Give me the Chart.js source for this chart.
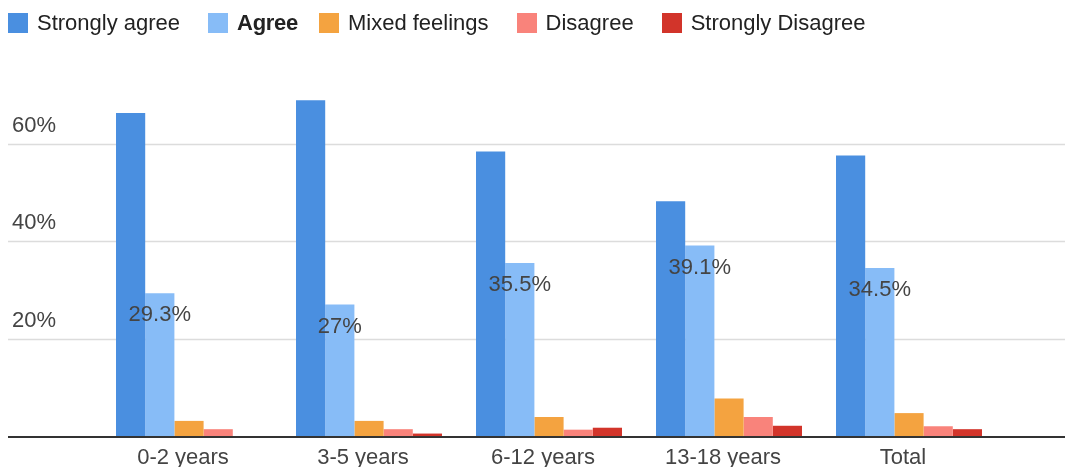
<!DOCTYPE html>
<html>
<head>
<meta charset="utf-8">
<script src="https://cdn.jsdelivr.net/npm/chart.js@4/dist/chart.umd.min.js"></script>
<style>
  html, body { margin: 0; padding: 0; background: #fff; }
  #wrap { position: relative; width: 1065px; height: 467px; overflow: hidden; }
  #chart { position: absolute; left: 0; top: 0; }
  #legend {
    position: absolute; left: 8px; top: 10px;
    display: flex; align-items: center; gap: 28px;
    font-family: "Liberation Sans", Arial, sans-serif; font-size: 22px; color: #222;
  }
  .item { display: flex; align-items: center; }
  .item.active { margin-right: -7px; }
  .item.active span:last-child { font-weight: bold; letter-spacing: -0.3px; }
  .swatch { width: 20px; height: 20px; margin-right: 9px; }
</style>
</head>
<body>
<div id="wrap">
  <canvas id="chart" width="1065" height="467"></canvas>
  <div id="legend"></div>
</div>
<script>
// Experience groups along the x axis
const categories = ['0-2 years', '3-5 years', '6-12 years', '13-18 years', 'Total'];

// Share of responses (%) per answer, one value per group
const stronglyAgree    = [66.3, 68.9, 58.4, 48.2, 57.6];
const agree            = [29.3, 27, 35.5, 39.1, 34.5];
const mixedFeelings    = [3.1, 3.1, 3.9, 7.7, 4.7];
const disagree         = [1.4, 1.4, 1.3, 3.9, 2.0];
const stronglyDisagree = [0, 0.5, 1.7, 2.1, 1.4];

// Value axis ticks (%)
const yTicks = [0, 20, 40, 60];

const seriesNames  = ['Strongly agree', 'Agree', 'Mixed feelings', 'Disagree', 'Strongly Disagree'];
const seriesColors = ['#4a8fe0', '#87bcf7', '#f4a340', '#f9837b', '#d2342a'];
const seriesValues = [stronglyAgree, agree, mixedFeelings, disagree, stronglyDisagree];

const FONT = '"Liberation Sans", Arial, sans-serif';

// Horizontal grid, value labels above each line, baseline and group names
const axisPlugin = {
  id: 'axisPlugin',
  beforeDatasetsDraw(chart) {
    const { ctx } = chart;
    const y = chart.scales.y;
    ctx.save();
    ctx.font = '22px ' + FONT;
    ctx.textBaseline = 'middle';
    ctx.textAlign = 'left';
    yTicks.forEach(t => {
      if (t === 0) return;
      const py = Math.round(y.getPixelForValue(t)) + 0.5;
      ctx.strokeStyle = '#dcdcdc';
      ctx.lineWidth = 1.5;
      ctx.beginPath();
      ctx.moveTo(8, py);
      ctx.lineTo(1065, py);
      ctx.stroke();
      ctx.fillStyle = '#444';
      ctx.fillText(t + '%', 12, py - 19);
    });
    ctx.restore();
  },
  afterDatasetsDraw(chart) {
    const { ctx } = chart;
    const x = chart.scales.x;
    const y = chart.scales.y;
    ctx.save();
    // baseline
    const by = y.getPixelForValue(0);
    ctx.strokeStyle = '#333';
    ctx.lineWidth = 2;
    ctx.beginPath();
    ctx.moveTo(8, by + 1);
    ctx.lineTo(1065, by + 1);
    ctx.stroke();
    // group names
    ctx.font = '22px ' + FONT;
    ctx.fillStyle = '#444';
    ctx.textAlign = 'center';
    ctx.textBaseline = 'middle';
    categories.forEach((c, i) => {
      ctx.fillText(c, x.getPixelForValue(i) - 6, 458);
    });
    // value annotations on the "Agree" bars
    const meta = chart.getDatasetMeta(1);
    ctx.fillStyle = '#444';
    meta.data.forEach((bar, i) => {
      ctx.fillText(agree[i] + '%', bar.x, bar.y + 22);
    });
    ctx.restore();
  }
};

const chart = new Chart(document.getElementById('chart'), {
  type: 'bar',
  data: {
    labels: categories,
    datasets: seriesValues.map((vals, i) => ({
      label: seriesNames[i],
      data: vals,
      backgroundColor: seriesColors[i],
      borderWidth: 0,
      categoryPercentage: 0.811,
      barPercentage: 1.0
    }))
  },
  options: {
    responsive: false,
    animation: false,
    layout: { padding: { left: 99, right: 66, top: 95, bottom: 31 } },
    plugins: {
      legend: { display: false },
      tooltip: { enabled: false }
    },
    scales: {
      x: { display: false, offset: true },
      y: { display: false, min: 0, max: 70 }
    }
  },
  plugins: [axisPlugin]
});

// Legend row built from the series names and colours; "Agree" is the highlighted entry
const legend = document.getElementById('legend');
seriesNames.forEach((name, i) => {
  const item = document.createElement('div');
  item.className = i === 1 ? 'item active' : 'item';
  const sw = document.createElement('span');
  sw.className = 'swatch';
  sw.style.background = seriesColors[i];
  const label = document.createElement('span');
  label.textContent = name;
  item.appendChild(sw);
  item.appendChild(label);
  legend.appendChild(item);
});
</script>
</body>
</html>
